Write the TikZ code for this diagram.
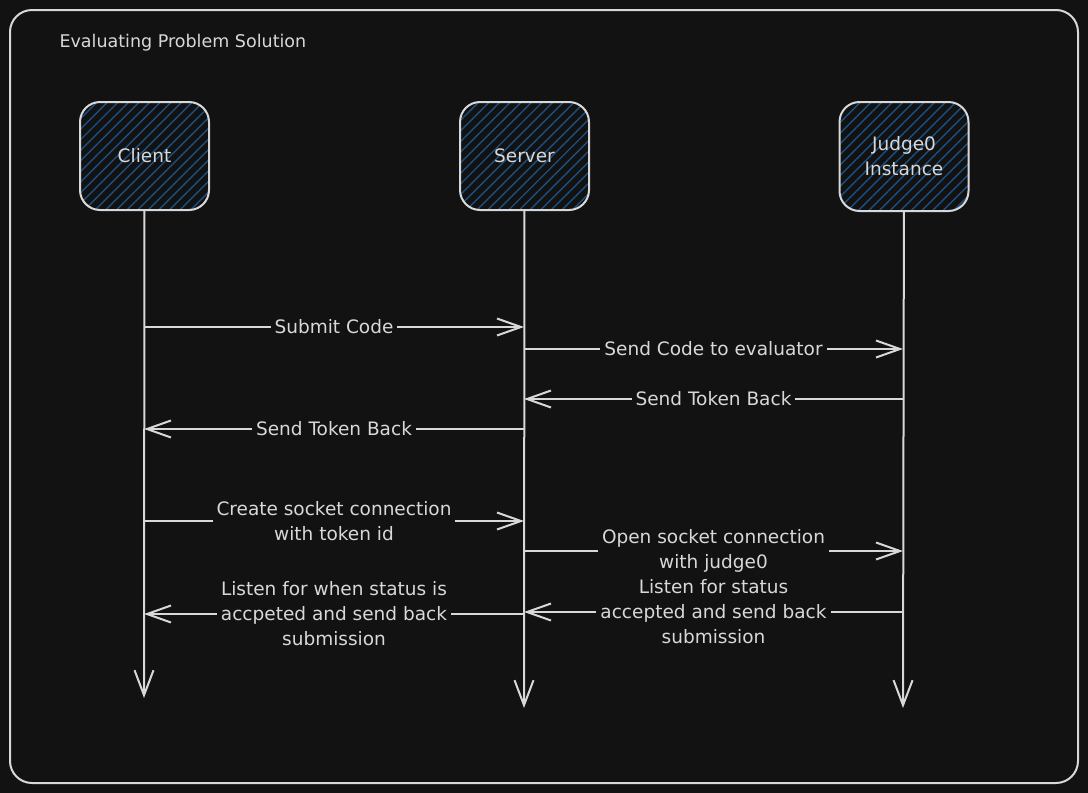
\documentclass[tikz,border=0pt]{standalone}
\usepackage{fontspec}
\setmainfont{DejaVu Sans}
\usetikzlibrary{arrows.meta,patterns.meta}
\definecolor{bg}{HTML}{121212}
\definecolor{ink}{HTML}{D8D8D8}
\definecolor{hatch}{HTML}{1D4F80}
\newcommand{\lblfont}{\fontsize{18.5}{25}\selectfont}

\begin{document}
\begin{tikzpicture}[x=1pt,y=-1pt,
  actor/.style={draw=ink,line width=2pt,rounded corners=20pt,
    minimum width=129pt,minimum height=108pt,
    pattern={Lines[angle=45,distance=7.5pt,line width=1.4pt]},pattern color=hatch,
    align=center,text=ink,font=\lblfont},
  life/.style={draw=ink,line width=2pt,-{Straight Barb[length=25pt,width=19pt]}},
  msg/.style={draw=ink,line width=2pt,-{Straight Barb[length=24pt,width=17pt]}},
  lbl/.style={fill=bg,text=ink,inner sep=4pt,align=center,font=\lblfont}]

  % background and frame
  \fill [bg] (0,0) rectangle (1088,793);
  \draw [ink,line width=2pt,rounded corners=22pt] (10,10) rectangle (1078,783);
  \node [anchor=west,text=ink,font=\fontsize{17.5}{20}\selectfont] (title) at (56,43) {Evaluating Problem Solution};

  % participants
  \node [actor] (client) at (144.5,156) {Client};
  \node [actor] (server) at (524.5,156) {Server};
  \node [actor,minimum height=109pt] (judge) at (904,156.5) {Judge0\\Instance};

  % lifelines
  \coordinate (client end) at (144,698);
  \coordinate (server end) at (524,708);
  \coordinate (judge end) at (903,708);
  \draw [life] (client) -- (client end);
  \draw [life] (server) -- (server end);
  \draw [life] (judge) -- (judge end);

  % messages
  \draw [msg] (client end |- 0,327) -- (server end |- 0,327) node [lbl,midway] {Submit Code};
  \draw [msg] (server end |- 0,349) -- (judge end |- 0,349) node [lbl,midway] {Send Code to evaluator};
  \draw [msg] (judge end |- 0,399) -- (server end |- 0,399) node [lbl,midway] {Send Token Back};
  \draw [msg] (server end |- 0,429) -- (client end |- 0,429) node [lbl,midway] {Send Token Back};

  \draw [msg] (client end |- 0,521) -- (server end |- 0,521)
    node [lbl,midway] {Create socket connection\\with token id};
  \draw [msg] (server end |- 0,551) -- (judge end |- 0,551)
    node [lbl,midway] {Open socket connection\\with judge0};
  \draw [msg] (judge end |- 0,612) -- (server end |- 0,612)
    node [lbl,midway] {Listen for status\\accepted and send back\\submission};
  \draw [msg] (server end |- 0,614) -- (client end |- 0,614)
    node [lbl,midway] {Listen for when status is\\accpeted and send back\\submission};

\end{tikzpicture}
\end{document}
